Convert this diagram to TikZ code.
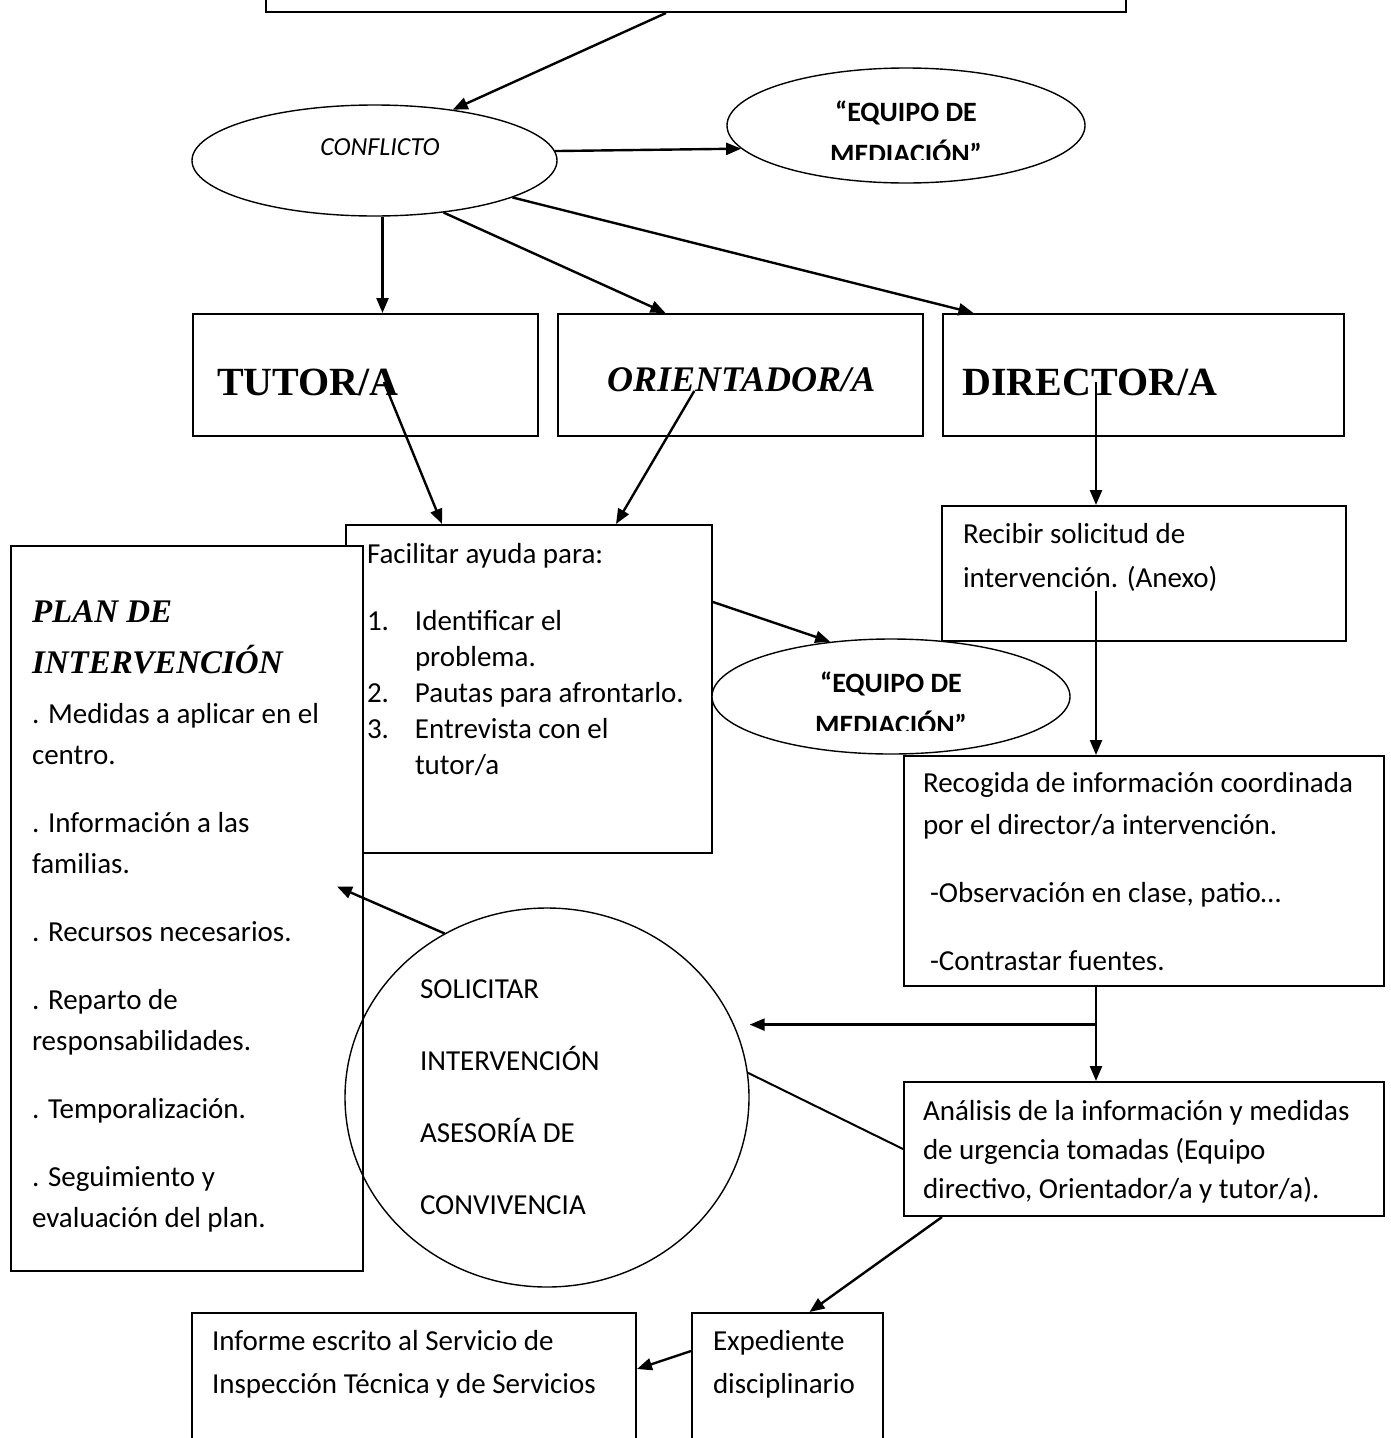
\documentclass[tikz,border=0pt]{standalone}
\usepackage{fontspec}
\setmainfont{Carlito}
\newfontfamily\serifcap{Liberation Serif}
\usetikzlibrary{arrows.meta,shapes.geometric,calc}
\newcommand\tl{\rule{0pt}{30pt}}

\begin{document}
\begin{tikzpicture}[x=1pt,y=-1pt,
    box/.style={draw,line width=2pt,fill=white,anchor=north west,inner sep=0},
    oval/.style={draw,ellipse,line width=1.4pt,inner sep=0},
    txt/.style={anchor=north west,inner sep=0,outer sep=0,align=left},
    stxt/.style={anchor=base west,inner sep=0},
    eqtxt/.style={anchor=north,inner sep=0,outer sep=0,align=center,font=\fontsize{28}{42}\selectfont\bfseries},
    arr/.style={line width=2.4pt,-{Triangle[length=15pt,width=12pt]}},
    lin/.style={line width=2pt}]
    \useasboundingbox (0,0) rectangle (1390,1438);
    \clip (0,0) rectangle (1390,1438);

    \node[box,minimum width=860,minimum height=51] (top) at (265,-40) {};

    \node[oval,minimum width=365,minimum height=111] (conflicto) at (374.5,160.5) {};
    \node[anchor=base,inner sep=0,font=\fontsize{26}{30}\selectfont\itshape] (conflictoT) at (380,155) {CONFLICTO};

    \node[oval,fill=white,minimum width=358,minimum height=115] (equipoA) at (906,125.5) {};
    \begin{scope}
        \clip (700,0) rectangle (1100,159.5);
        \node[eqtxt] (equipoAT) at (906,91.5) {\tl“EQUIPO DE\\MEDIACIÓN”};
    \end{scope}

    \node[box,minimum width=345,minimum height=122] (tutor) at (192,313) {};
    \node[box,minimum width=365,minimum height=122] (orient) at (557,313) {};
    \node[box,minimum width=401,minimum height=122] (director) at (942,313) {};
    \node[stxt,font=\serifcap\bfseries\fontsize{40}{48}\selectfont] (tutorT) at (217,395) {TUTOR/A};
    \node[stxt,font=\serifcap\bfseries\itshape\fontsize{36}{44}\selectfont] (orientT) at (607,391) {ORIENTADOR/A};
    \node[stxt,font=\serifcap\bfseries\fontsize{40}{48}\selectfont] (directorT) at (962,395) {DIRECTOR/A};

    \node[box,minimum width=366,minimum height=328] (facil) at (345,524) {};
    \node[txt,font=\fontsize{29}{36}\selectfont] (facilT) at (367,533) {\tl Facilitar ayuda para:\\[31pt]
        \makebox[48pt][l]{1.}Identificar el\\\hspace*{48pt}problema.\\
        \makebox[48pt][l]{2.}Pautas para afrontarlo.\\
        \makebox[48pt][l]{3.}Entrevista con el\\\hspace*{48pt}tutor/a};

    \node[box,minimum width=352,minimum height=725] (plan) at (10,545) {};
    \node[txt,font=\serifcap\bfseries\itshape\fontsize{33}{51}\selectfont] (planT) at (32,592) {\tl PLAN DE\\INTERVENCIÓN};
    \node[txt,font=\fontsize{29}{41}\selectfont] (planL) at (32,693) {\tl. Medidas a aplicar en el\\centro.\\[27pt]
        . Información a las\\familias.\\[27pt]
        . Recursos necesarios.\\[27pt]
        . Reparto de\\responsabilidades.\\[27pt]
        . Temporalización.\\[27pt]
        . Seguimiento y\\evaluación del plan.};

    \node[box,minimum width=404,minimum height=135] (recibir) at (941,505) {};
    \node[txt,font=\fontsize{29}{44}\selectfont] (recibirT) at (963,513) {\tl Recibir solicitud de\\intervención. (Anexo)};

    \node[oval,fill=white,minimum width=358,minimum height=115] (equipoB) at (891,696.5) {};
    \begin{scope}
        \clip (700,600) rectangle (1100,730.5);
        \node[eqtxt] (equipoBT) at (891,662.5) {\tl“EQUIPO DE\\MEDIACIÓN”};
    \end{scope}

    \node[box,minimum width=480,minimum height=230] (recogida) at (903,755) {};
    \node[txt,font=\fontsize{29}{42}\selectfont] (recogidaT) at (923,762) {\tl Recogida de información coordinada\\por el director/a intervención.\\[26pt]
        \hspace*{7pt}-Observación en clase, patio…\\[26pt]
        \hspace*{7pt}-Contrastar fuentes.};

    \node[oval,minimum width=404,minimum height=379] (solicitar) at (547,1097.5) {};
    \node[txt,font=\fontsize{29}{72}\selectfont] (solicitarT) at (420,968) {\tl SOLICITAR\\INTERVENCIÓN\\ASESORÍA DE\\CONVIVENCIA};

    \node[box,minimum width=480,minimum height=134] (analisis) at (903,1081) {};
    \node[txt,font=\fontsize{29}{39}\selectfont] (analisisT) at (923,1090) {\tl Análisis de la información y medidas\\de urgencia tomadas (Equipo\\directivo, Orientador/a y tutor/a).};

    \node[box,minimum width=444,minimum height=160] (informe) at (191,1312) {};
    \node[txt,font=\fontsize{29}{43}\selectfont] (informeT) at (212,1320) {\tl Informe escrito al Servicio de\\Inspección Técnica y de Servicios};
    \node[box,minimum width=191,minimum height=160] (expediente) at (691,1312) {};
    \node[txt,font=\fontsize{29}{43}\selectfont] (expedienteT) at (713,1320) {\tl Expediente\\disciplinario};

    \coordinate (tx) at ([xshift=8pt]conflicto.south);
    \coordinate (dx) at ([xshift=-48pt]recibir.north);
    \coordinate (junc) at ($(dx |- recogida.south)!0.4!(dx |- analisis.north)$);

    \draw[arr] ([xshift=-30pt]top.south) -- (conflicto.33);
    \draw[arr] (conflicto.3) -- (equipoA.188);
    \draw[arr] (tx) -- (tx |- tutor.north);
    \draw[arr] (conflicto.-37) -- ([xshift=-75pt]orient.north);
    \draw[arr] (conflicto.-15) -- ([xshift=-170pt]director.north);
    \draw[arr] ([xshift=-15pt]tutorT.east) -- ([xshift=-87pt]facil.north);
    \draw[arr] ([xshift=-47pt]orientT.base) -- ([xshift=87pt]facil.north);
    \draw[arr] (directorT.center -| dx) -- (dx);
    \draw[arr] ([yshift=87pt]facil.east) -- (equipoB.138);
    \draw[arr] (dx |- recibirT.south) -- (dx |- recogida.north);
    \draw[arr] (dx |- recogida.south) -- (dx |- analisis.north);
    \draw[arr] (junc) -- (junc -| solicitar.east);
    \draw[lin] (solicitar.7) -- (analisis.west);
    \draw[arr] (solicitar.122) -- ([xshift=-27pt,yshift=22pt]plan.east);
    \draw[arr] ([xshift=39pt]analisis.south west) -- ([xshift=22pt]expediente.north);
    \draw[arr] ([yshift=42pt]expediente.west) -- ([yshift=24pt]informe.east);
\end{tikzpicture}
\end{document}
